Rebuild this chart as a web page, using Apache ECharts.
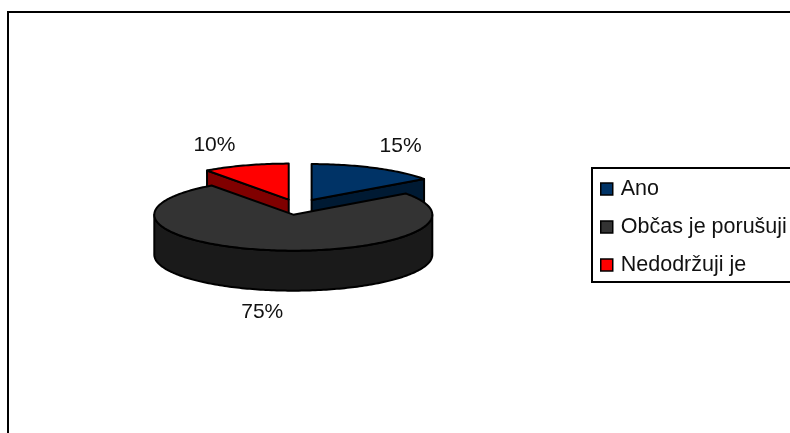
<!DOCTYPE html>
<html>
<head>
<meta charset="utf-8">
<style>html,body{margin:0;padding:0;background:#fff}#c{width:790px;height:433px}</style>
<script src="https://cdn.jsdelivr.net/npm/echarts@6/dist/echarts.min.js"></script>
</head>
<body>
<div id="c"></div>
<script>
const categories = ['Ano', 'Občas je porušuji', 'Nedodržuji je'];
const values = [15, 75, 10];
const topColors = ['#003366', '#333333', '#ff0000'];
const sideColors = ['#001a33', '#1a1a1a', '#800000'];

// layout of the tilted pie
const CX = 298, CY = 207, RX = 139, RY = 36, DEPTH = 40, EXPLODE = 30, TILT = RY / RX;
const labelNudge = [[-7, -3], [2, 1], [-9, 0]];
const FONT = 'Liberation Sans, Arial, sans-serif';

const total = values.reduce((a, b) => a + b, 0);
const starts = [];
values.reduce((acc, v, i) => { starts[i] = acc; return acc + v; }, 0);
const toAngle = v => v / total * Math.PI * 2;

function makeItem(i) {
  return function (params, api) {
    const v = api.value(0);
    const a0 = toAngle(starts[i]), a1 = a0 + toAngle(v), mid = (a0 + a1) / 2;
    const ox = CX + EXPLODE * Math.sin(mid), oy = CY - EXPLODE * TILT * Math.cos(mid);
    const pt = (a, dz) => [ox + RX * Math.sin(a), oy - RY * Math.cos(a) + dz];
    const arc = (from, to, dz) => {
      const n = Math.max(2, Math.ceil((to - from) / 0.02)), out = [];
      for (let k = 0; k <= n; k++) out.push(pt(from + (to - from) * k / n, dz));
      return out;
    };
    const stroke = { stroke: '#000', lineWidth: 2, lineJoin: 'round' };
    const children = [];
    const wall = pts => children.push({ type: 'polygon', shape: { points: pts }, style: Object.assign({ fill: sideColors[i] }, stroke) });
    const cutWall = a => wall([[ox, oy], pt(a, 0), pt(a, DEPTH), [ox, oy + DEPTH]]);

    // radial cut walls that face the viewer
    if (a1 < Math.PI / 2) cutWall(a1);
    if (a0 > Math.PI * 1.5) cutWall(a0);
    // outer rim, only the front half of the ellipse
    const fa = Math.max(a0, Math.PI / 2), fb = Math.min(a1, Math.PI * 1.5);
    if (fb > fa) wall(arc(fa, fb, 0).concat(arc(fa, fb, DEPTH).reverse()));
    // top face
    children.push({ type: 'polygon', shape: { points: [[ox, oy]].concat(arc(a0, a1, 0)) }, style: Object.assign({ fill: topColors[i] }, stroke) });
    // percentage label
    const front = Math.cos(mid) < 0 ? DEPTH : 0;
    children.push({
      type: 'text',
      style: {
        x: ox + 1.52 * RX * Math.sin(mid) + labelNudge[i][0],
        y: oy - 1.6 * RY * Math.cos(mid) + front + labelNudge[i][1],
        text: v + '%', fill: '#111', font: '21px ' + FONT, align: 'center', verticalAlign: 'middle'
      }
    });
    return { type: 'group', children };
  };
}

const drawOrder = [0, 2, 1];
const chart = echarts.init(document.getElementById('c'), null, { renderer: 'canvas' });
chart.setOption({
  animation: false,
  backgroundColor: '#fff',
  legend: {
    data: categories,
    orient: 'vertical',
    left: 592, top: 168,
    padding: [10, 40, 6, 8],
    itemGap: 16,
    itemWidth: 12, itemHeight: 12,
    icon: 'rect',
    backgroundColor: '#fff',
    borderColor: '#000', borderWidth: 2, borderRadius: 0,
    selectedMode: false,
    textStyle: { color: '#111', fontFamily: FONT, fontSize: 21.5, padding: [0, 0, 0, 3] },
    itemStyle: { borderColor: '#000', borderWidth: 1.5 }
  },
  graphic: [{
    type: 'rect', z: -10, silent: true,
    shape: { x: 8, y: 12, width: 900, height: 600 },
    style: { fill: '#fff', stroke: '#000', lineWidth: 2 }
  }],
  series: drawOrder.map(i => ({
    type: 'custom',
    name: categories[i],
    coordinateSystem: 'none',
    silent: true,
    itemStyle: { color: topColors[i] },
    data: [values[i]],
    renderItem: makeItem(i)
  }))
});
</script>
</body>
</html>
